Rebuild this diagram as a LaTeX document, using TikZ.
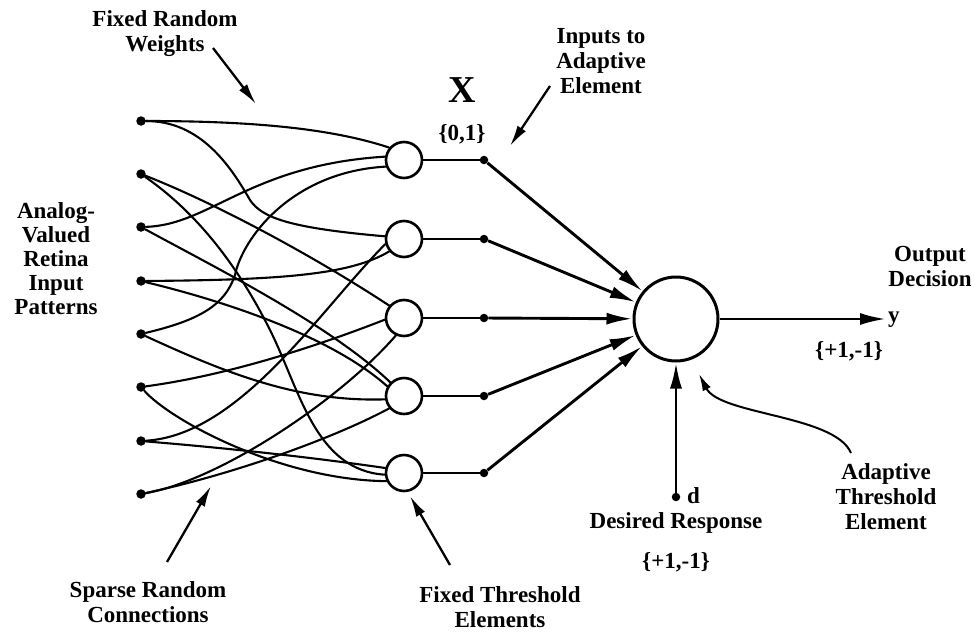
\documentclass[tikz,border=0pt]{standalone}
\usepackage{fontspec}
\setmainfont{Liberation Serif}
\usetikzlibrary{arrows.meta}
\begin{document}
\begin{tikzpicture}[x=1pt,y=-1pt,
  inp/.style={circle,fill=black,inner sep=0pt,minimum size=9.5pt},
  sdot/.style={circle,fill=black,inner sep=0pt,minimum size=8.5pt},
  thr/.style={circle,draw=black,line width=2.6pt,fill=white,inner sep=0pt,minimum size=36pt},
  adapt/.style={circle,draw=black,line width=3pt,inner sep=0pt,minimum size=84pt},
  wire/.style={line width=2.1pt,line cap=round},
  thinline/.style={line width=1.7pt},
  feed/.style={line width=2.9pt,-{Latex[length=26pt,width=12pt]}},
  note/.style={line width=2.3pt,-{Latex[length=21pt,width=10pt]}},
  smallnote/.style={line width=2pt,-{Latex[length=17pt,width=9pt]}},
  lbl/.style={font=\fontsize{23}{25}\selectfont\bfseries,align=center,inner sep=0pt},
]
\useasboundingbox[fill=white] (0,0) rectangle (974,632);

% input retina dots
\node[inp] (I1) at (141,121) {};
\node[inp] (I2) at (141,174) {};
\node[inp] (I3) at (141,227) {};
\node[inp] (I4) at (141,281) {};
\node[inp] (I5) at (141,334) {};
\node[inp] (I6) at (141,387) {};
\node[inp] (I7) at (141,441) {};
\node[inp] (I8) at (141,494) {};

% fixed threshold elements
\node[thr] (T1) at (404,160) {};
\node[thr] (T2) at (404,239) {};
\node[thr] (T3) at (404,318) {};
\node[thr] (T4) at (404,396) {};
\node[thr] (T5) at (404,473) {};

% input dots of adaptive element
\node[sdot] (D1) at (484,160) {};
\node[sdot] (D2) at (484,239) {};
\node[sdot] (D3) at (484,318) {};
\node[sdot] (D4) at (484,396) {};
\node[sdot] (D5) at (484,473) {};

% adaptive element
\node[adapt] (O) at (676,319) {};
\node[sdot] (dd) at (676,497) {};
\coordinate (yend) at (886,319);

% sparse random connections
\draw[wire] (I1) .. controls (250,121) and (330,128) .. (T1.140);
\draw[wire] (I1) .. controls (200,121) and (230,165) .. (250,200) .. controls (262,218) and (290,228) .. (T2.172);
\draw[wire] (I2) .. controls (220,205) and (320,260) .. (T3.140);
\draw[wire] (I2) .. controls (200,215) and (240,270) .. (270,330) .. controls (300,390) and (315,470) .. (T5.185);
\draw[wire] (I3) .. controls (210,225) and (250,165) .. (T1.170);
\draw[wire] (I3) .. controls (220,270) and (330,325) .. (T4.135);
\draw[wire] (I4) .. controls (280,280) and (350,275) .. (T2.220);
\draw[wire] (I4) .. controls (220,300) and (330,335) .. (T4.150);
\draw[wire] (I5) .. controls (200,320) and (225,305) .. (235,275) .. controls (242,240) and (290,172) .. (T1.200);
\draw[wire] (I5) .. controls (230,375) and (300,402) .. (T4.190);
\draw[wire] (I6) .. controls (230,375) and (320,345) .. (T3.185);
\draw[wire] (I6) .. controls (170,420) and (280,480) .. (T5.205);
\draw[wire] (I7) .. controls (240,435) and (320,310) .. (T2.195);
\draw[wire] (I7) .. controls (250,450) and (330,460) .. (T5.165);
\draw[wire] (I8) .. controls (220,480) and (340,400) .. (T3.245);
\draw[wire] (I8) .. controls (230,475) and (330,440) .. (T4.220);

% threshold outputs
\foreach \i in {1,...,5} {
  \draw[thinline] (T\i.east) -- (D\i);
  \draw[feed] (D\i) -- (O);
}

% output and desired response
\draw[feed] (O) -- (yend);
\draw[feed] (dd) -- (O);

% annotation arrows
\coordinate (frwA) at (213,48);
\coordinate (frwB) at (256,104);
\coordinate (inA) at (550,86);
\coordinate (inB) at (510,146);
\coordinate (srcA) at (167,562);
\coordinate (srcB) at (211,486);
\coordinate (ftA) at (450,565);
\coordinate (ftB) at (410,496);
\coordinate (ateA) at (851,453);
\coordinate (ateB) at (699,374);
\draw[note] (frwA) -- (frwB);
\draw[note] (inA) -- (inB);
\draw[note] (srcA) -- (srcB);
\draw[note] (ftA) -- (ftB);
\draw[smallnote] (ateA) .. controls (835,415) and (720,415) .. (ateB);

% labels
\node[lbl] (lfrw) at (165,34) {Fixed Random\\Weights};
\node[lbl] (lin) at (601,61) {Inputs to\\Adaptive\\Element};
\node[font=\fontsize{38}{40}\selectfont\bfseries,anchor=base,inner sep=0pt] (lx) at (462,102) {X};
\node[lbl,anchor=base] (l01) at (462,140) {\{0,1\}};
\node[lbl,font=\fontsize{23}{24}\selectfont\bfseries] (lan) at (56,259) {Analog-\\Valued\\Retina\\Input\\Patterns};
\node[lbl] (lout) at (930,266) {Output\\Decision};
\node[lbl,anchor=base west] (ly) at (888,322) {y};
\node[lbl,anchor=base] (lpm) at (849,357) {\{+1,-1\}};
\node[lbl,anchor=base west] (ld) at (687,503) {d};
\node[lbl,anchor=base] (ldr) at (676,528) {Desired Response};
\node[lbl,anchor=base] (lpm2) at (676,568) {\{+1,-1\}};
\node[lbl] (late) at (886,497) {Adaptive\\Threshold\\Element};
\node[lbl] (lsrc) at (148,602) {Sparse Random\\Connections};
\node[lbl] (lft) at (500,607) {Fixed Threshold\\Elements};
\end{tikzpicture}
\end{document}
